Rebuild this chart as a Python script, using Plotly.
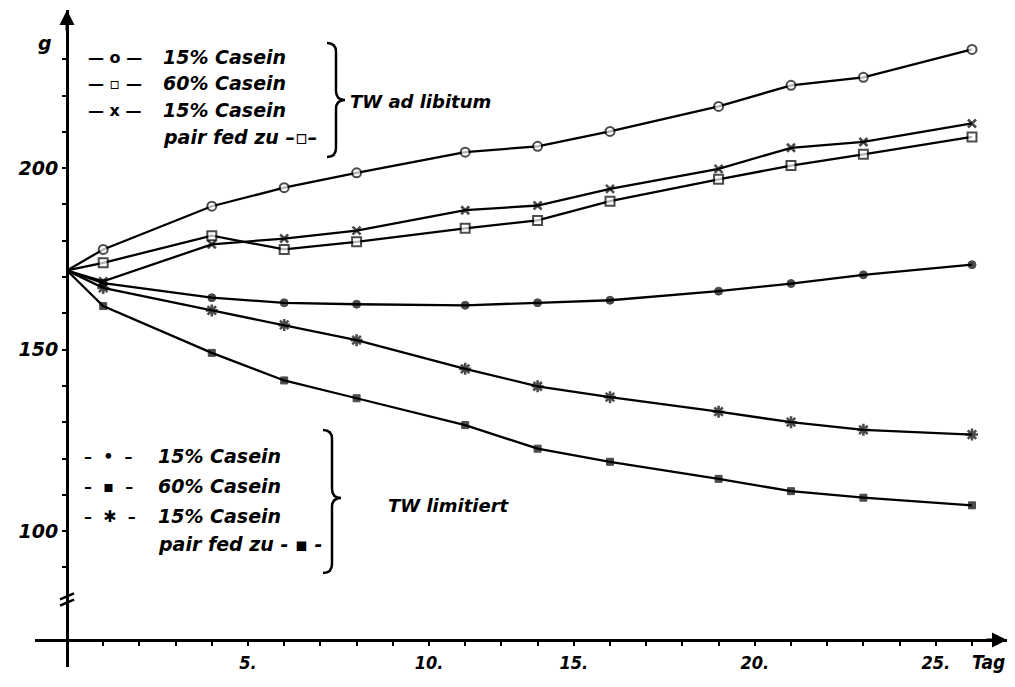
import plotly.graph_objects as go

# ---------------- data ----------------
days = [0, 1, 4, 6, 8, 11, 13, 15, 18, 20, 22, 25]

adlib_15 = [171.8, 177.6, 189.5, 194.6, 198.7, 204.4, 206.0, 210.1, 217.0, 222.8, 225.0, 232.7]
adlib_60 = [171.8, 173.9, 181.4, 177.6, 179.7, 183.4, 185.6, 190.9, 196.9, 200.7, 203.8, 208.6]
adlib_15_pair = [171.8, 168.8, 179.0, 180.6, 182.8, 188.4, 189.7, 194.3, 199.8, 205.6, 207.2, 212.3]
lim_15 = [171.8, 168.3, 164.3, 162.9, 162.5, 162.2, 162.9, 163.6, 166.1, 168.2, 170.6, 173.4]
lim_60 = [171.8, 162.0, 149.1, 141.5, 136.6, 129.2, 122.7, 119.1, 114.4, 111.0, 109.2, 107.1]
lim_15_pair = [171.8, 167.0, 160.8, 156.8, 152.6, 144.7, 139.9, 136.9, 132.9, 130.0, 127.9, 126.6]

x_ticks = list(range(1, 26))
x_label_pos = [5, 10, 14, 19, 24]
x_labels = ["5.", "10.", "15.", "20.", "25."]
y_ticks = list(range(90, 231, 10))
y_labels = {100: "100", 150: "150", 200: "200"}

legend_top = ["15% Casein", "60% Casein", "15% Casein", "pair fed zu –▫–"]
legend_top_samples = ["— o —", "— ▫ —", "— x —", ""]
legend_bottom = ["15% Casein", "60% Casein", "15% Casein", "pair fed zu - ▪ -"]
legend_bottom_samples = ["–  •  –", "–  ▪  –", "–  ✱  –", ""]

# ---------------- layout geometry ----------------
W, H = 1015, 687
ML, MR, MT, MB = 35, 8, 10, 20
PW, PH = W - ML - MR, H - MT - MB
x_range = [-0.884, 25.967]
y_range = [62.56, 243.56]


def px_x(px):
    return (px - ML) / PW


def px_y(py):
    return (H - MB - py) / PH


FONT = "DejaVu Sans"
ital = dict(family=FONT, size=19, color="black", style="italic", weight="bold")
sample_font = dict(family=FONT, size=16, color="black", weight="bold")

fig = go.Figure()


def add_series(y, symbol, size, fill, lw):
    sizes = [0] + [size] * (len(days) - 1)
    fig.add_trace(go.Scatter(
        x=days, y=y, mode="lines+markers", cliponaxis=False,
        line=dict(color="black", width=2.3),
        marker=dict(symbol=symbol, size=sizes, color=fill,
                    line=dict(color="black", width=lw)),
        showlegend=False, hoverinfo="skip"))


add_series(adlib_15, "circle", 9, "white", 2)
add_series(adlib_60, "square", 9, "white", 2)
add_series(adlib_15_pair, "x-thin", 8, "black", 2.6)
add_series(lim_15, "circle", 8, "black", 1)
add_series(lim_60, "square", 7, "black", 1)
add_series(lim_15_pair, "asterisk-open", 10, "black", 2.6)

annotations = []
shapes = []

# legend texts
top_rows = [57, 83, 110, 137]
bot_rows = [456, 486, 516, 544]
for yy, s, t in zip(top_rows, legend_top_samples, legend_top):
    if s:
        annotations.append(dict(xref="paper", yref="paper", x=px_x(86), y=px_y(yy),
                                text=s, showarrow=False, xanchor="left", yanchor="middle",
                                font=sample_font))
    annotations.append(dict(xref="paper", yref="paper", x=px_x(161), y=px_y(yy),
                            text=t, showarrow=False, xanchor="left", yanchor="middle",
                            font=ital))
for yy, s, t in zip(bot_rows, legend_bottom_samples, legend_bottom):
    if s:
        annotations.append(dict(xref="paper", yref="paper", x=px_x(82), y=px_y(yy),
                                text=s, showarrow=False, xanchor="left", yanchor="middle",
                                font=sample_font))
    annotations.append(dict(xref="paper", yref="paper", x=px_x(156), y=px_y(yy),
                            text=t, showarrow=False, xanchor="left", yanchor="middle",
                            font=ital))

annotations.append(dict(xref="paper", yref="paper", x=px_x(348), y=px_y(101),
                        text="TW ad libitum", showarrow=False, xanchor="left",
                        yanchor="middle", font=dict(ital, size=18)))
annotations.append(dict(xref="paper", yref="paper", x=px_x(386), y=px_y(505),
                        text="TW limitiert", showarrow=False, xanchor="left",
                        yanchor="middle", font=dict(ital, size=18)))


# braces
def brace(x0, ytop, ybot, ytip, depth=18, r=9):
    xm = x0 + depth / 2
    xt = x0 + depth
    pts = (f"M {px_x(x0)},{px_y(ytop)} Q {px_x(xm)},{px_y(ytop)} {px_x(xm)},{px_y(ytop + r)} "
           f"L {px_x(xm)},{px_y(ytip - r)} Q {px_x(xm)},{px_y(ytip)} {px_x(xt)},{px_y(ytip)} "
           f"Q {px_x(xm)},{px_y(ytip)} {px_x(xm)},{px_y(ytip + r)} "
           f"L {px_x(xm)},{px_y(ybot - r)} Q {px_x(xm)},{px_y(ybot)} {px_x(x0)},{px_y(ybot)}")
    return dict(type="path", xref="paper", yref="paper", path=pts,
                line=dict(color="black", width=2.5))


shapes.append(brace(327, 43, 157, 100))
shapes.append(brace(323, 430, 573, 498))

# axis break marks on the y axis
for yb in [80.3, 82.0]:
    shapes.append(dict(type="line", xref="x", yref="y", xsizemode="pixel", ysizemode="pixel",
                       xanchor=0, yanchor=yb, x0=-7, x1=7, y0=-3, y1=3,
                       line=dict(color="black", width=2.5)))

# axis titles and arrow heads
annotations.append(dict(xref="paper", yref="paper", x=px_x(45), y=px_y(43), text="g",
                        showarrow=False, xanchor="center", yanchor="middle", font=ital))
annotations.append(dict(xref="paper", yref="paper", x=px_x(988), y=px_y(662), text="Tag",
                        showarrow=False, xanchor="center", yanchor="middle",
                        font=dict(ital, family="DejaVu Sans Condensed")))
annotations.append(dict(x=0, y=y_range[1], xref="x", yref="y", text="", showarrow=True,
                        ax=0, ay=22, arrowhead=2, arrowsize=1, arrowwidth=3,
                        arrowcolor="black", standoff=0))
annotations.append(dict(x=x_range[1], y=70, xref="x", yref="y", text="", showarrow=True,
                        ax=-22, ay=0, arrowhead=2, arrowsize=1, arrowwidth=3,
                        arrowcolor="black", standoff=0))

x_text = [x_labels[x_label_pos.index(v)] if v in x_label_pos else "" for v in x_ticks]
y_text = [y_labels.get(v, "") for v in y_ticks]

fig.update_layout(
    width=W, height=H, autosize=False,
    margin=dict(l=ML, r=MR, t=MT, b=MB),
    paper_bgcolor="white", plot_bgcolor="white",
    xaxis=dict(range=x_range, anchor="free",
               position=(70 - y_range[0]) / (y_range[1] - y_range[0]),
               showline=True, linecolor="black", linewidth=3,
               showgrid=False, zeroline=False,
               tickmode="array", tickvals=x_ticks, ticktext=x_text,
               ticks="outside", ticklen=4, tickwidth=2, tickcolor="black",
               ticklabelstandoff=1,
               tickfont=dict(family="DejaVu Sans Condensed", size=18, color="black",
                             style="italic", weight="bold")),
    yaxis=dict(range=y_range, anchor="free",
               position=(0 - x_range[0]) / (x_range[1] - x_range[0]),
               showline=True, linecolor="black", linewidth=3,
               showgrid=False, zeroline=False,
               tickmode="array", tickvals=y_ticks, ticktext=y_text,
               ticks="outside", ticklen=4, tickwidth=2, tickcolor="black",
               tickfont=ital),
    annotations=annotations, shapes=shapes,
    showlegend=False,
)

fig.write_html("out.html", config={"displayModeBar": False},
               post_script="document.body.style.margin='0px';")
